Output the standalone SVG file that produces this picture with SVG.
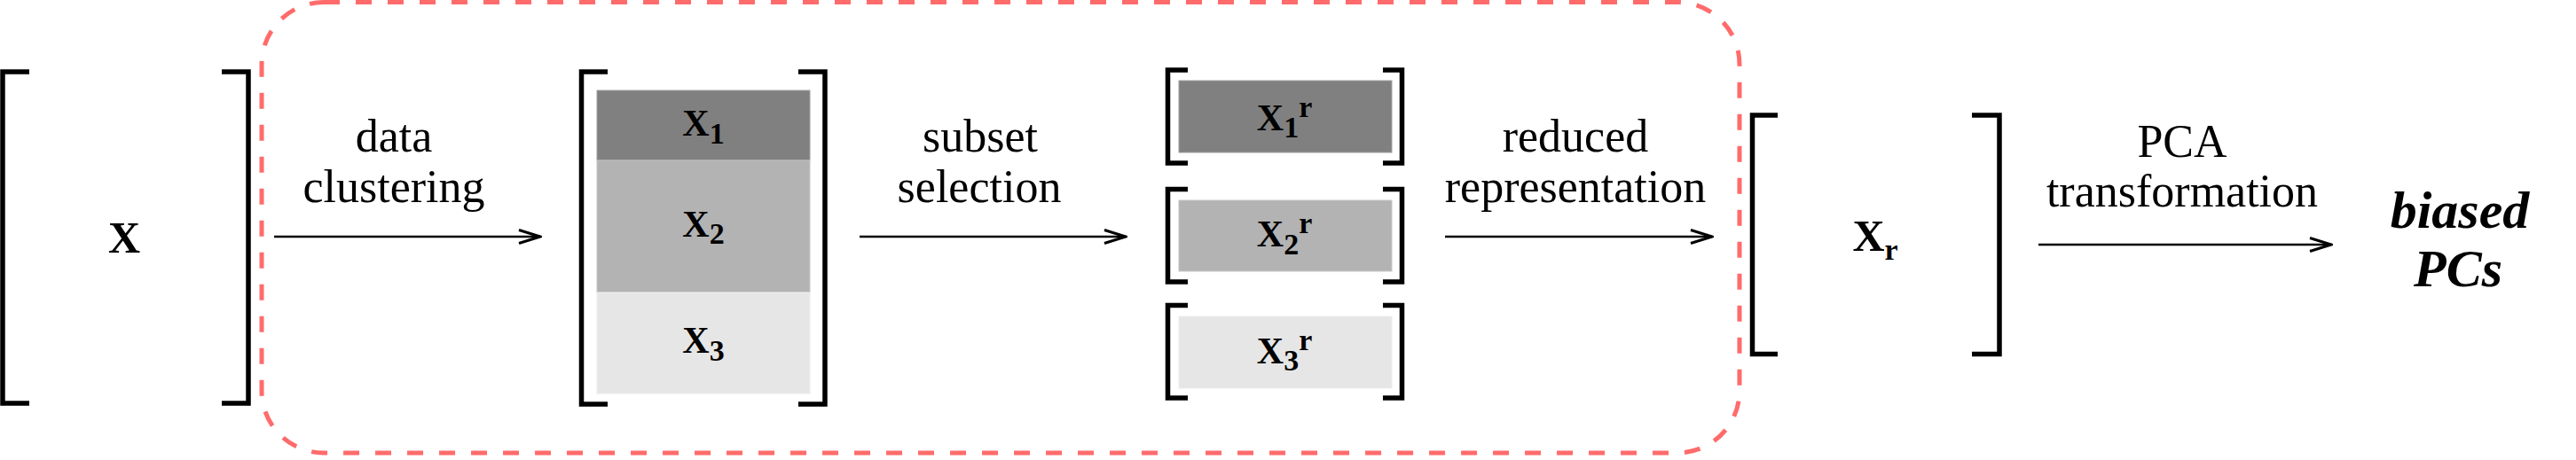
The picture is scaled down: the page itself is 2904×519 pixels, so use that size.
<svg xmlns="http://www.w3.org/2000/svg" width="2904" height="519" viewBox="0 0 2904 519">
<style>
.br{fill:none;stroke:#000;stroke-width:5.5;stroke-linejoin:miter}
.lbl{font-family:"Liberation Serif","Times New Roman",serif;font-size:52px;fill:#000;text-anchor:middle}
.mx{font-family:"Liberation Serif","Times New Roman",serif;font-weight:bold;fill:#000;text-anchor:middle}
.out{font-family:"Liberation Serif","Times New Roman",serif;font-weight:bold;font-style:italic;font-size:60px;fill:#000;text-anchor:middle}
.c1{fill:#808080;stroke:#a0a0a0;stroke-width:1}
.c2{fill:#b3b3b3;stroke:#c6c6c6;stroke-width:1}
.c3{fill:#e6e6e6;stroke:#ededed;stroke-width:1}
.ar{fill:none;stroke:#000;stroke-width:2.6}
</style>
<defs>
<marker id="arr" viewBox="0 0 30 20" refX="28" refY="10" markerWidth="30" markerHeight="20" markerUnits="userSpaceOnUse" orient="auto">
<path d="M4,2.5 L28,10 L4,17.5" fill="none" stroke="#000" stroke-width="3"/>
</marker>
</defs>
<rect width="2904" height="519" fill="#fff"/>
<g id="group-box">
<rect x="295" y="2.5" width="1666" height="508.5" rx="70" ry="70" fill="none" stroke="#ff6b6b" stroke-width="5" stroke-dasharray="18 18"/>
</g>
<g id="node-X">
<path class="br" d="M33,81 H3 V455 H33"/>
<path class="br" d="M250,81 H280 V455 H250"/>
<text class="mx" x="140" y="285" font-size="50">X</text>
</g>
<g id="node-clusters">
<path class="br" d="M685,81 H655.5 V456 H685"/>
<path class="br" d="M900,81 H930 V456 H900"/>
<rect class="c1" x="673" y="102" width="240" height="79"/>
<rect class="c2" x="673" y="181" width="240" height="149"/>
<rect class="c3" x="673" y="330" width="240" height="114"/>
<text class="mx" x="793" y="153" font-size="42">X<tspan dy="9" font-size="34">1</tspan></text>
<text class="mx" x="793" y="267" font-size="42">X<tspan dy="8" font-size="34">2</tspan></text>
<text class="mx" x="793" y="398" font-size="42">X<tspan dy="9" font-size="34">3</tspan></text>
</g>
<g id="node-X1r">
<path class="br" d="M1339,79 H1316.5 V184 H1339"/>
<path class="br" d="M1559,79 H1580.5 V184 H1559"/>
<rect class="c1" x="1329" y="91" width="240" height="81"/>
<text class="mx" x="1448" y="147" font-size="42">X<tspan dy="8" font-size="34">1</tspan><tspan dy="-23" font-size="34">r</tspan></text>
</g>
<g id="node-X2r">
<path class="br" d="M1339,213.5 H1316.5 V318 H1339"/>
<path class="br" d="M1559,213.5 H1580.5 V318 H1559"/>
<rect class="c2" x="1329" y="226" width="240" height="80"/>
<text class="mx" x="1448" y="278" font-size="42">X<tspan dy="9" font-size="34">2</tspan><tspan dy="-24" font-size="34">r</tspan></text>
</g>
<g id="node-X3r">
<path class="br" d="M1339,344.5 H1316.5 V449 H1339"/>
<path class="br" d="M1559,344.5 H1580.5 V449 H1559"/>
<rect class="c3" x="1329" y="357" width="240" height="81"/>
<text class="mx" x="1448" y="410" font-size="42">X<tspan dy="8" font-size="34">3</tspan><tspan dy="-23" font-size="34">r</tspan></text>
</g>
<g id="node-Xr">
<path class="br" d="M2004,130 H1975.5 V399.5 H2004"/>
<path class="br" d="M2223,130 H2254 V399.5 H2223"/>
<text class="mx" x="2114" y="283" font-size="50">X<tspan dy="10" font-size="34">r</tspan></text>
</g>
<g id="node-PCs">
<text class="out" x="2773" y="257">biased</text>
<text class="out" x="2771" y="323">PCs</text>
</g>
<g id="connectors">
<line class="ar" x1="309" y1="267" x2="609" y2="267" marker-end="url(#arr)"/>
<text class="lbl" x="444" y="171">data</text>
<text class="lbl" x="444" y="228">clustering</text>
<line class="ar" x1="969" y1="267" x2="1269" y2="267" marker-end="url(#arr)"/>
<text class="lbl" x="1105" y="171">subset</text>
<text class="lbl" x="1104" y="228">selection</text>
<line class="ar" x1="1629" y1="267" x2="1930" y2="267" marker-end="url(#arr)"/>
<text class="lbl" x="1776" y="171">reduced</text>
<text class="lbl" x="1776" y="228">representation</text>
<line class="ar" x1="2298" y1="276" x2="2628" y2="276" marker-end="url(#arr)"/>
<text class="lbl" x="2460" y="177">PCA</text>
<text class="lbl" x="2460" y="233">transformation</text>
</g>
</svg>
